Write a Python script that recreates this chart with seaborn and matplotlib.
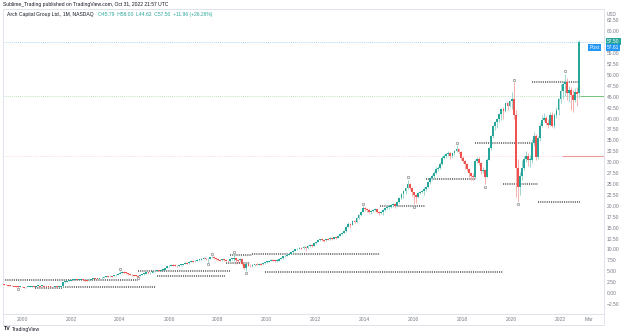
import numpy as np
import pandas as pd
import matplotlib
matplotlib.use("Agg")
import matplotlib.pyplot as plt
from matplotlib.lines import Line2D
import seaborn as sns

# ---------------- data (monthly, Apr 1999 .. Oct 2022) ----------------
first_month = -9          # months relative to Jan 2000
first_open = 2.0
last_open = 45.79

closes = [
    1.95, 1.85, 1.80, 1.72, 1.65, 1.60, 1.52, 1.45, 1.50,                       # 1999 Apr-Dec
    1.40, 1.30, 1.35, 1.42, 1.48, 1.52, 1.45, 1.55, 1.62, 1.58, 1.70, 1.66,    # 2000
    1.60, 1.55, 1.50, 1.48, 1.52, 1.45, 1.50, 1.55, 2.45, 2.60, 2.75, 2.85,    # 2001
    2.95, 3.05, 3.15, 3.00, 3.10, 3.20, 3.05, 2.95, 2.90, 3.05, 3.20, 3.45,    # 2002
    3.40, 3.30, 3.35, 3.55, 3.70, 3.85, 3.80, 3.95, 3.85, 4.05, 4.25, 4.45,    # 2003
    4.70, 4.85, 4.75, 4.55, 4.40, 4.25, 4.10, 4.05, 3.95, 3.90, 4.20, 4.30,    # 2004
    4.45, 4.75, 4.50, 4.65, 4.95, 5.05, 5.20, 5.10, 5.25, 5.35, 5.75, 6.10,    # 2005
    6.20, 6.45, 6.40, 6.30, 6.15, 6.35, 6.50, 6.60, 6.95, 6.80, 7.20, 7.40,    # 2006
    7.25, 7.40, 7.55, 7.65, 7.85, 8.05, 7.70, 7.85, 8.15, 8.30, 7.95, 7.80,    # 2007
    7.60, 7.55, 7.70, 7.65, 7.45, 7.35, 7.75, 7.90, 7.95, 7.60, 7.55, 7.75,    # 2008
    6.60, 5.75, 6.55, 6.30, 6.20, 6.35, 6.65, 6.50, 6.70, 6.60, 6.85, 7.10,    # 2009
    7.15, 7.35, 7.60, 7.50, 7.40, 7.45, 7.90, 8.00, 8.40, 8.50, 8.75, 8.95,    # 2010
    9.30, 9.70, 10.00, 10.20, 10.40, 10.25, 10.60, 10.30, 10.75, 11.05, 10.85, 11.40,  # 2011
    11.80, 12.05, 12.30, 12.20, 12.10, 12.45, 12.35, 12.55, 12.50, 12.75, 12.65, 13.10,  # 2012
    13.60, 13.80, 14.30, 15.20, 15.90, 15.60, 16.60, 16.20, 17.20, 17.90, 18.60, 19.40,  # 2013
    19.30, 19.05, 18.55, 18.75, 18.95, 19.20, 18.60, 18.30, 18.55, 19.00, 19.40, 19.65,  # 2014
    19.80, 20.10, 20.40, 20.00, 20.90, 21.80, 22.60, 23.40, 24.10, 24.90, 24.00, 23.10,  # 2015
    22.40, 21.90, 22.90, 23.20, 23.40, 23.90, 24.20, 25.40, 26.30, 26.90, 27.60, 28.40,  # 2016
    28.60, 29.60, 31.00, 31.50, 31.80, 32.20, 31.30, 32.10, 32.60, 33.10, 32.40, 30.90,  # 2017
    30.20, 29.50, 28.40, 27.60, 26.90, 26.50, 30.30, 30.80, 29.80, 28.00, 28.30, 26.70,  # 2018
    30.60, 33.20, 36.00, 38.20, 39.20, 39.80, 41.00, 42.20, 41.80, 43.50, 42.80, 44.00,  # 2019
    44.50, 40.80, 28.70, 24.20, 26.90, 28.70, 30.80, 31.40, 30.50, 30.60, 34.40, 36.00,  # 2020
    31.20, 35.60, 38.40, 39.70, 40.20, 39.00, 38.60, 40.90, 38.40, 40.80, 41.90, 44.40,  # 2021
    46.40, 47.80, 48.40, 45.80, 46.60, 45.50, 44.30, 46.00, 45.54, 57.50,                # 2022 Jan-Oct
]

highs = [
    2.10, 2.00, 1.92, 1.86, 1.78, 1.72, 1.66, 1.58, 1.60,
    1.55, 1.45, 1.45, 1.50, 1.56, 1.60, 1.56, 1.62, 1.70, 1.68, 1.76, 1.76,
    1.70, 1.64, 1.58, 1.55, 1.58, 1.55, 1.56, 1.62, 2.55, 2.75, 2.85, 2.95,
    3.05, 3.15, 3.25, 3.20, 3.20, 3.30, 3.25, 3.10, 3.05, 3.15, 3.30, 3.55,
    3.55, 3.45, 3.45, 3.60, 3.80, 3.95, 3.95, 4.05, 4.00, 4.15, 4.35, 4.60,
    5.10, 5.00, 4.95, 4.80, 4.60, 4.50, 4.35, 4.20, 4.15, 4.10, 4.30, 4.45,
    4.55, 4.85, 4.85, 4.75, 5.05, 5.15, 5.35, 5.30, 5.40, 5.45, 5.85, 6.20,
    6.35, 6.60, 6.60, 6.55, 6.40, 6.45, 6.60, 6.75, 7.05, 7.10, 7.30, 7.55,
    7.50, 7.55, 7.70, 7.80, 8.00, 8.20, 8.10, 8.00, 8.30, 8.60, 8.40, 8.10,
    7.95, 7.85, 7.85, 7.90, 7.80, 7.60, 7.85, 8.10, 9.10, 8.00, 7.90, 7.95,
    7.80, 6.70, 6.70, 6.75, 6.55, 6.55, 6.75, 6.80, 7.00, 6.90, 6.95, 7.20,
    7.30, 7.45, 7.75, 7.85, 7.65, 7.70, 8.00, 8.15, 8.55, 8.70, 8.90, 9.10,
    9.45, 9.85, 10.10, 10.35, 10.55, 10.50, 10.75, 10.70, 10.95, 11.20, 11.15, 11.55,
    11.95, 12.20, 12.45, 12.55, 12.40, 12.60, 12.65, 12.75, 12.80, 12.95, 12.90, 13.25,
    13.75, 14.00, 14.45, 15.35, 16.20, 16.10, 16.80, 16.80, 17.40, 18.10, 18.80, 20.00,
    19.70, 19.45, 19.30, 18.95, 19.20, 19.40, 19.30, 18.80, 18.85, 19.20, 19.60, 19.90,
    20.05, 20.30, 20.65, 20.55, 21.10, 22.00, 22.85, 23.60, 24.40, 25.80, 25.30, 24.40,
    23.20, 22.60, 23.10, 23.50, 23.60, 24.20, 24.60, 25.60, 26.50, 27.20, 28.00, 28.80,
    29.10, 30.10, 31.40, 31.90, 32.20, 32.60, 32.40, 32.40, 32.90, 33.90, 33.30, 32.60,
    31.50, 30.60, 29.80, 28.60, 27.80, 27.40, 30.70, 31.20, 31.20, 30.00, 28.80, 28.50,
    31.00, 33.50, 36.30, 38.50, 39.50, 40.20, 41.30, 42.50, 42.70, 43.90, 43.70, 44.30,
    46.00, 48.30, 42.00, 30.80, 27.80, 30.60, 31.50, 32.50, 32.20, 31.60, 35.20, 37.00,
    36.40, 35.90, 39.00, 40.80, 41.30, 40.60, 39.80, 41.50, 41.50, 41.20, 42.60, 44.70,
    47.80, 48.40, 50.30, 49.40, 47.50, 47.30, 46.50, 47.10, 47.30, 58.00,
]

lows = [
    1.88, 1.78, 1.72, 1.66, 1.58, 1.52, 1.40, 1.10, 1.38,
    1.30, 1.20, 1.24, 1.30, 1.38, 1.42, 1.36, 1.40, 1.50, 1.50, 1.52, 1.58,
    1.55, 1.48, 1.42, 1.40, 1.45, 1.38, 1.42, 1.46, 1.50, 2.35, 2.55, 2.65,
    2.75, 2.88, 2.98, 2.90, 2.95, 3.05, 2.85, 2.80, 2.75, 2.85, 3.00, 3.15,
    3.30, 3.20, 3.22, 3.30, 3.50, 3.65, 3.65, 3.75, 3.75, 3.80, 4.00, 4.20,
    4.35, 4.55, 4.55, 4.40, 4.20, 4.10, 3.95, 3.90, 3.85, 3.70, 3.85, 4.10,
    4.20, 4.40, 4.40, 4.40, 4.60, 4.85, 4.95, 4.95, 5.00, 5.05, 5.30, 5.70,
    5.95, 6.10, 6.25, 6.10, 5.90, 6.00, 6.25, 6.40, 6.55, 6.65, 6.75, 7.10,
    7.15, 7.15, 7.25, 7.45, 7.55, 7.75, 7.50, 7.00, 7.75, 8.00, 7.70, 7.50,
    7.30, 7.30, 7.30, 7.40, 7.30, 7.10, 7.20, 7.60, 7.40, 6.60, 6.90, 7.20,
    6.40, 5.60, 5.00, 6.10, 5.95, 6.05, 6.10, 6.35, 6.40, 6.40, 6.50, 6.75,
    6.90, 7.05, 7.30, 7.35, 7.05, 7.20, 7.35, 7.80, 7.90, 8.25, 8.40, 8.65,
    8.90, 9.25, 9.55, 9.90, 10.10, 10.00, 10.15, 9.60, 10.20, 10.55, 10.50, 10.75,
    11.30, 11.70, 11.95, 11.90, 11.70, 11.85, 12.10, 12.25, 12.25, 12.40, 12.30, 12.55,
    13.05, 13.35, 13.65, 14.10, 15.05, 15.00, 15.55, 16.00, 16.15, 17.00, 17.75, 18.50,
    18.70, 18.60, 18.25, 18.20, 18.60, 18.80, 18.40, 18.00, 18.10, 17.90, 18.90, 19.20,
    19.20, 19.60, 19.80, 19.60, 19.90, 20.70, 21.60, 21.70, 22.80, 23.80, 23.60, 22.30,
    20.30, 20.60, 21.80, 22.60, 22.90, 22.50, 23.50, 24.00, 25.00, 25.90, 26.10, 27.20,
    28.00, 28.40, 29.40, 30.70, 30.90, 31.50, 30.80, 30.90, 31.70, 32.40, 31.90, 30.40,
    29.80, 28.40, 28.00, 26.70, 26.00, 25.80, 26.20, 29.90, 29.40, 27.20, 27.40, 24.90,
    26.60, 30.40, 32.80, 35.60, 37.30, 37.90, 39.20, 39.60, 39.80, 41.40, 42.00, 42.60,
    42.10, 40.00, 22.00, 20.90, 22.40, 25.90, 28.30, 30.00, 29.10, 29.00, 29.90, 33.60,
    30.60, 30.80, 34.80, 38.00, 39.40, 38.50, 37.80, 38.40, 38.00, 37.80, 40.20, 40.80,
    43.60, 44.40, 45.20, 44.30, 43.80, 42.00, 41.50, 43.90, 42.80, 44.62,
]

# support / resistance levels: (price, start month, end month)
level_price = [3.0, 1.25, 1.35, 5.0, 3.8, 6.9, 8.8, 9.0, 4.9, 20.0, 26.2, 34.3, 24.9, 20.9, 48.3]
level_start = [-9.3, 6.4, 20.1, 56.9, 66.2, 100.0, 102.0, 112.7, 119.0, 175.5, 198.0, 222.0, 235.8, 253.0, 250.0]
level_end   = [56.9, 20.1, 65.7, 102.0, 99.5, 111.8, 112.7, 175.5, 235.8, 197.5, 222.0, 250.0, 253.0, 273.5, 273.0]

# pivot markers (month, price)
pivot_month = [-2, 48, 57, 91, 93, 104, 110, 167, 189, 192, 213, 227, 241, 243, 266]
pivot_price = [0.95, 5.5, 3.45, 6.7, 9.0, 9.5, 4.6, 20.5, 26.6, 19.7, 34.5, 24.3, 48.9, 20.3, 50.8]

year_ticks = [0, 24, 48, 72, 96, 120, 144, 168, 192, 216, 240, 264, 278]
year_labels = ["2000", "2002", "2004", "2006", "2008", "2010", "2012", "2014",
               "2016", "2018", "2020", "2022", "Mar"]

# ---------------- build frame ----------------
closes_a = np.array(closes)
opens_a = np.r_[first_open, closes_a[:-1]]
opens_a[-1] = last_open
df = pd.DataFrame({
    "month": np.arange(first_month, first_month + len(closes)),
    "open": opens_a, "high": np.array(highs), "low": np.array(lows), "close": closes_a,
})
df["up"] = df["close"] >= df["open"]

UP = "#26a69a"
DOWN = "#ef5350"
GRID = "#e0e3eb"
TXT = "#787b86"

sns.set_theme(style="white")
plt.rcParams["font.family"] = ["Liberation Sans", "DejaVu Sans"]

W, H = 624, 333
fig = plt.figure(figsize=(W / 100, H / 100), dpi=100)

def px(x0, y0, x1, y1):
    return [x0 / W, 1 - y1 / H, (x1 - x0) / W, (y1 - y0) / H]

ax = fig.add_axes(px(3, 9, 604, 314))
ax.set_xlim(-9.3, 285.3)
ax.set_ylim(-4.8, 65.1)

# reference lines
ax.axhline(57.6, color="#90caf9", lw=0.6, ls=(0, (1, 1.5)), zorder=1)
ax.axhline(45.1, color="#a5d6a7", lw=0.6, ls=(0, (1, 1.5)), zorder=1)
ax.hlines(45.1, 273.5, 285.3, color="#66bb6a", lw=0.6, zorder=1)
ax.axhline(31.3, color="#f8c4c4", lw=0.5, ls=(0, (1, 1.5)), zorder=1)
ax.hlines(31.3, 264.7, 285.3, color="#ef9a9a", lw=0.8, zorder=1)

# levels
ax.hlines(level_price, level_start, level_end, color="#6b6b6b", lw=1.3,
          linestyles=(0, (0.6, 0.6)), zorder=2)

# candles
colors = np.where(df["up"], UP, DOWN)
wick_colors = np.where(df["up"], "#8fd0c9", "#f5a3a2")
ax.vlines(df["month"], df["low"], df["high"], colors=wick_colors, lw=0.6, zorder=3)
body_h = (df["close"] - df["open"]).to_numpy()
body_h = np.where(np.abs(body_h) < 0.2, np.where(body_h >= 0, 0.2, -0.2), body_h)
ax.bar(df["month"], body_h, bottom=df["open"], width=0.9, color=colors,
       linewidth=0, zorder=4)

# pivot markers
piv = pd.DataFrame({"month": pivot_month, "price": pivot_price})
sns.scatterplot(data=piv, x="month", y="price", ax=ax, marker="o", s=3,
                facecolor="white", edgecolor="#8a8a8a", linewidth=0.5, zorder=5,
                legend=False)
ax.set_xlabel("")
ax.set_ylabel("")

# axes styling
for s in ["left", "top", "right", "bottom"]:
    ax.spines[s].set_color(GRID)
    ax.spines[s].set_linewidth(0.7)
ax.yaxis.tick_right()
yt = np.arange(-2.5, 62.6, 2.5)
ax.set_yticks(yt)
ax.set_yticklabels([("\u2212%.2f" % -v) if v < 0 else "%.2f" % v for v in yt])
ax.tick_params(axis="y", length=0, pad=2.2, labelsize=3.6, labelcolor=TXT)
ax.set_xticks(year_ticks)
ax.set_xticklabels(year_labels)
ax.tick_params(axis="x", length=0, pad=2.4, labelsize=3.6, labelcolor=TXT)

# outer frame lines (time axis + price axis)
fig.add_artist(Line2D([604 / W, 604 / W], [1 - 314 / H, 1 - 325 / H], color=GRID, lw=0.7))
fig.add_artist(Line2D([3 / W, 604 / W], [1 - 325 / H, 1 - 325 / H], color=GRID, lw=0.7))
fig.add_artist(Line2D([3 / W, 3 / W], [1 - 314 / H, 1 - 325 / H], color=GRID, lw=0.7))

# price boxes
fig.text(613 / W, 1 - 41.5 / H, "57.50", fontsize=3.6, color="white", ha="center", va="center",
         bbox=dict(boxstyle="square,pad=0.25", fc=UP, ec=UP, lw=0))
fig.text(613 / W, 1 - 47.5 / H, "57.61", fontsize=3.6, color="white", ha="center", va="center",
         bbox=dict(boxstyle="square,pad=0.25", fc="#2196f3", ec="#2196f3", lw=0))
fig.text(594.5 / W, 1 - 47.5 / H, "Post", fontsize=3.6, color="white", ha="center", va="center",
         bbox=dict(boxstyle="square,pad=0.25", fc="#2196f3", ec="#2196f3", lw=0))
fig.text(607 / W, 1 - 14 / H, "USD", fontsize=3.4, color=TXT, ha="left", va="center")

# header texts
fig.text(3 / W, 1 - 4.5 / H, "Sublime_Trading published on TradingView.com, Oct 31, 2022 21:57 UTC",
         fontsize=3.6, color="#131722", ha="left", va="center")
t_name = fig.text(7 / W, 1 - 14.5 / H, "Arch Capital Group Ltd., 1M, NASDAQ", fontsize=3.6,
                  color="#131722", ha="left", va="center")
fig.text(0, 0, "O45.79  H58.00  L44.62  C57.50  +11.96 (+26.26%)", fontsize=3.6,
         color=UP, ha="left", va="center")
fig.texts[-1].remove()
ax.annotate("O45.79  H58.00  L44.62  C57.50  +11.96 (+26.26%)", xy=(1, 0.5),
            xycoords=t_name, xytext=(3, 0), textcoords="offset points",
            fontsize=3.6, color=UP, ha="left", va="center", annotation_clip=False)

# footer logo
fig.text(4 / W, 1 - 329 / H, "TV", fontsize=3.8, color="#131722", ha="left", va="center",
         fontweight="bold")
fig.text(12 / W, 1 - 329 / H, "TradingView", fontsize=3.6, color="#131722", ha="left", va="center")

fig.savefig("out.png", dpi=100, facecolor="white")
